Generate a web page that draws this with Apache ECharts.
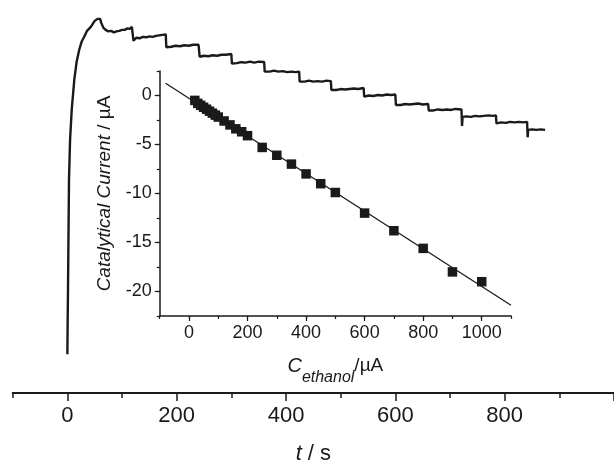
<!DOCTYPE html>
<html>
<head>
<meta charset="utf-8">
<script src="https://cdn.jsdelivr.net/npm/echarts@6/dist/echarts.min.js"></script>
<style>html,body{margin:0;padding:0;background:#fff}#c{width:614px;height:470px}</style>
</head>
<body>
<div id="c"></div>
<script>
// Main amperometric i-t curve: [time (s), current (arb. units)]
var timeCurrent = [
  [0,3.9],[0.5,7],[1,9.5],[2,15.5],[3,21.5],[5,25.5],[8,28.5],[12.7,31.5],[17,33.3],[21.7,34.5],[26,35.3],[30.8,35.8],[36,36.4],[42.9,36.8],[50,37.4],[55,37.6],[58,37.8],[60,37.6],[62,37.2],[66,36.7],[70,36.5],[75,36.35],[80,36.4],[85,36.25],[90,36.35],[95,36.4],[100,36.5],[105,36.5],[110,36.65],[114,36.6],[118,36.8],[120,36.9],
  [121,35.4],[122,35.6],[126,35.7],[132,35.65],[138,35.8],[144,35.75],[150,35.85],[156,35.8],[162,35.9],[168,35.95],[174,36.0],[180,36.05],
  [181,34.75],[182,34.85],[190,34.8],[198,34.9],[206,34.85],[214,34.95],[222,34.9],[230,35.0],[240,35.0],
  [242,33.8],[243,33.85],[250,33.9],[258,33.85],[266,33.95],[274,33.9],[282,34.0],[290,34.0],[300,34.07],
  [301,33.1],[302,33.2],[310,33.15],[318,33.25],[326,33.2],[334,33.3],[342,33.2],[350,33.3],[360,33.27],
  [361,32.3],[362,32.35],[370,32.3],[378,32.4],[386,32.3],[394,32.35],[402,32.25],[410,32.3],[418,32.25],[424,32.3],
  [425,31.3],[426,31.35],[434,31.3],[442,31.4],[450,31.3],[458,31.35],[466,31.3],[474,31.4],[482,31.35],
  [483,30.45],[484,30.5],[492,30.45],[500,30.55],[508,30.5],[516,30.55],[524,30.6],[532,30.55],[542,30.65],
  [543,29.8],[544,29.85],[552,29.9],[560,29.85],[568,29.95],[576,29.9],[584,30.0],[592,29.95],[600,30.0],
  [601,28.95],[602,29.0],[610,28.95],[618,29.05],[626,29.0],[634,29.05],[642,29.1],[650,29.0],[660,29.05],
  [661,28.4],[662,28.45],[670,28.4],[678,28.5],[686,28.45],[694,28.5],[702,28.45],[710,28.55],[721,28.5],
  [722,26.85],[723,27.75],[730,27.8],[738,27.75],[746,27.85],[754,27.8],[762,27.85],[770,27.9],[778,27.85],[784,27.9],
  [785,27.1],[786,27.15],[794,27.2],[802,27.15],[810,27.25],[818,27.2],[826,27.25],[834,27.2],[841,27.25],
  [842,25.7],[843,26.45],[850,26.5],[858,26.45],[866,26.5],[874,26.45]
];
var mainTickLabels = [0, 200, 400, 600, 800];
var mainMajorTicks = [0, 200, 400, 600, 800, 1000];

// Inset calibration data
var ethanolConc = [20,30,40,50,60,70,80,90,100,120,140,160,180,200,250,300,350,400,450,500,600,700,800,900,1000];
var catCurrent  = [-0.5,-0.8,-1.0,-1.2,-1.4,-1.6,-1.8,-2.0,-2.2,-2.6,-3.0,-3.4,-3.7,-4.1,-5.3,-6.1,-7.0,-8.0,-9.0,-9.9,-12.0,-13.8,-15.6,-18.0,-19.0];
var fitX = [-80, 1100];
var fitY = [1.25, -21.4];
var insetXLabels = [0, 200, 400, 600, 800, 1000];
var insetYLabels = [-20, -15, -10, -5, 0];

var scatterData = ethanolConc.map(function(c, i){ return [c, catCurrent[i]]; });
var fitData = fitX.map(function(x, i){ return [x, fitY[i]]; });

var ink = '#1a1a1a';
var FF = 'Liberation Sans, Arial, sans-serif';
var plain = function(v){ return String(v); };

var chart = echarts.init(document.getElementById('c'), null, {renderer: 'canvas'});
chart.setOption({
  backgroundColor: '#fff',
  animation: false,
  grid: [
    {left: 12.7, right: -6.5, top: 0, bottom: 75},
    {left: 159.7, right: 103, top: 71, bottom: 154}
  ],
  xAxis: [
    {gridIndex: 0, type: 'value', position: 'bottom', min: -100, max: 1000, interval: 100,
     axisLine: {show: true, onZero: false, lineStyle: {color: ink, width: 2}},
     axisTick: {show: true, length: 5, lineStyle: {color: ink, width: 1.5}},
     axisLabel: {show: true, customValues: mainTickLabels, formatter: plain, margin: 12, color: ink, fontSize: 22, fontFamily: FF},
     splitLine: {show: false},
     name: '{i|t} / s', nameLocation: 'middle', nameGap: 50,
     nameTextStyle: {color: ink, fontSize: 22, fontFamily: FF, rich: {i: {fontStyle: 'italic', fontSize: 22, fontFamily: FF, color: ink}}}
    },
    {gridIndex: 0, type: 'value', position: 'bottom', min: -100, max: 1000, interval: 100,
     axisLine: {show: false, onZero: false},
     axisTick: {show: true, customValues: mainMajorTicks, length: 8, lineStyle: {color: ink, width: 1.5}},
     axisLabel: {show: false}, splitLine: {show: false}
    },
    {gridIndex: 1, type: 'value', position: 'bottom', min: -100, max: 1100, interval: 100,
     axisLine: {show: true, onZero: false, lineStyle: {color: ink, width: 1.5}},
     axisTick: {show: true, length: 3, lineStyle: {color: ink, width: 1.2}},
     axisLabel: {show: true, customValues: insetXLabels, formatter: plain, margin: 8, color: ink, fontSize: 18, fontFamily: FF},
     splitLine: {show: false},
     name: '{i|C}{sub|ethanol}{n|/µA}', nameLocation: 'middle', nameGap: 40,
     nameTextStyle: {color: ink, fontFamily: FF, rich: {
       i: {fontStyle: 'italic', fontSize: 20, fontFamily: FF, color: ink, lineHeight: 22, verticalAlign: 'top'},
       sub: {fontStyle: 'italic', fontSize: 16, fontFamily: FF, color: ink, lineHeight: 16, padding: [14,0,0,0], verticalAlign: 'top'},
       n: {fontSize: 19, fontFamily: FF, color: ink, lineHeight: 22, verticalAlign: 'top'}
     }}
    },
    {gridIndex: 1, type: 'value', position: 'bottom', min: -100, max: 1100, interval: 100,
     axisLine: {show: false, onZero: false},
     axisTick: {show: true, customValues: insetXLabels, length: 5, lineStyle: {color: ink, width: 1.2}},
     axisLabel: {show: false}, splitLine: {show: false}
    }
  ],
  yAxis: [
    {gridIndex: 0, type: 'value', min: 0, max: 39.5, show: false, splitLine: {show: false}},
    {gridIndex: 1, type: 'value', position: 'left', min: -22.5, max: 2.5, interval: 2.5,
     axisLine: {show: true, onZero: false, lineStyle: {color: ink, width: 1.5}},
     axisTick: {show: true, length: 3, lineStyle: {color: ink, width: 1.2}},
     axisLabel: {show: true, customValues: insetYLabels, formatter: plain, margin: 8, color: ink, fontSize: 18, fontFamily: FF},
     splitLine: {show: false},
     name: '{i|Catalytical Current} / µA', nameLocation: 'middle', nameRotate: 90, nameGap: 45,
     nameTextStyle: {color: ink, fontSize: 19, fontFamily: FF, rich: {i: {fontStyle: 'italic', fontSize: 19, fontFamily: FF, color: ink}}}
    },
    {gridIndex: 1, type: 'value', position: 'left', min: -22.5, max: 2.5, interval: 2.5,
     axisLine: {show: false, onZero: false},
     axisTick: {show: true, customValues: insetYLabels, length: 5, lineStyle: {color: ink, width: 1.2}},
     axisLabel: {show: false}, splitLine: {show: false}
    }
  ],
  series: [
    {type: 'line', xAxisIndex: 0, yAxisIndex: 0, data: timeCurrent, showSymbol: false, symbol: 'none',
     lineStyle: {color: ink, width: 2.4}, z: 2},
    {type: 'line', xAxisIndex: 2, yAxisIndex: 1, data: fitData, showSymbol: false, symbol: 'none',
     lineStyle: {color: ink, width: 1.3}, z: 3},
    {type: 'scatter', xAxisIndex: 2, yAxisIndex: 1, data: scatterData, symbol: 'rect', symbolSize: 9.5,
     itemStyle: {color: ink, opacity: 1}, z: 4}
  ]
});
</script>
</body>
</html>
